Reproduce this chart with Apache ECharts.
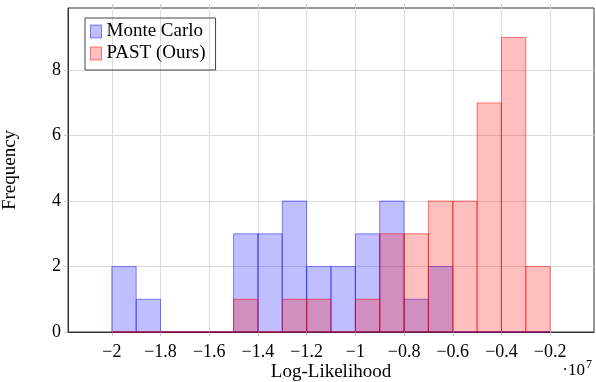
<!DOCTYPE html>
<html>
<head>
<meta charset="utf-8">
<script src="https://cdn.jsdelivr.net/npm/echarts@6/dist/echarts.min.js"></script>
<style>html,body{margin:0;padding:0;background:#fff;}#c{width:596px;height:382px;}</style>
</head>
<body>
<div id="c"></div>
<script>
// Bin edges (×10^7)
const binEdges = [-2.0, -1.9, -1.8, -1.7, -1.6, -1.5, -1.4, -1.3, -1.2, -1.1, -1.0, -0.9, -0.8, -0.7, -0.6, -0.5, -0.4, -0.3, -0.2];
// Frequencies per bin
const monteCarloCounts = [2, 1, 0, 0, 0, 3, 3, 4, 2, 2, 3, 4, 1, 2, 0, 0, 0, 0];
const pastCounts       = [0, 0, 0, 0, 0, 1, 0, 1, 1, 0, 1, 3, 3, 4, 4, 7, 9, 2];
const seriesNames = ['Monte Carlo', 'PAST (Ours)'];
const xTicks = [-2, -1.8, -1.6, -1.4, -1.2, -1, -0.8, -0.6, -0.4, -0.2];
const yTicks = [0, 2, 4, 6, 8];

const FONT = '"Liberation Serif", "DejaVu Serif", serif';
const blueFill = 'rgba(0,0,255,0.25)', blueStroke = 'rgba(0,0,255,0.45)';
const redFill = 'rgba(255,0,0,0.25)', redStroke = 'rgba(255,0,0,0.5)';

function toBins(counts) {
  return counts.map((c, i) => [binEdges[i], binEdges[i + 1], c]);
}
function makeRender(fill, stroke) {
  return function (params, api) {
    const p0 = api.coord([api.value(0), api.value(2)]);
    const p1 = api.coord([api.value(1), 0]);
    return {
      type: 'rect',
      shape: { x: p0[0], y: p0[1], width: p1[0] - p0[0], height: p1[1] - p0[1] },
      style: { fill: fill, stroke: stroke, lineWidth: 1 }
    };
  };
}
const fmt = v => String(Math.round(v * 10) / 10).replace('-', '\u2212');

const chart = echarts.init(document.getElementById('c'), null, { renderer: 'canvas' });
chart.setOption({
  animation: false,
  backgroundColor: '#fff',
  textStyle: { fontFamily: FONT },
  grid: { left: 68, right: 2, top: 8, bottom: 50, containLabel: false, outerBoundsMode: 'none',
          show: true, borderColor: '#333', borderWidth: 1, backgroundColor: 'transparent' },
  legend: {
    orient: 'vertical', left: 85, top: 18,
    borderColor: '#444', borderWidth: 1, padding: [4, 10, 7, 5],
    itemGap: 3, itemWidth: 11, itemHeight: 13,
    textStyle: { fontFamily: FONT, fontSize: 19, color: '#000' },
    data: [
      { name: seriesNames[0], icon: 'rect', itemStyle: { color: blueFill, borderColor: blueStroke, borderWidth: 1 } },
      { name: seriesNames[1], icon: 'rect', itemStyle: { color: redFill, borderColor: redStroke, borderWidth: 1 } }
    ]
  },
  xAxis: [{
    type: 'value', min: -2.18, max: -0.02,
    name: 'Log-Likelihood', nameLocation: 'middle', nameGap: 31, nameMoveOverlap: false,
    nameTextStyle: { fontFamily: FONT, fontSize: 19, color: '#000' },
    axisLine: { show: true, lineStyle: { color: '#333', width: 1 } },
    axisTick: { show: true, inside: false, length: 4, customValues: xTicks, lineStyle: { color: '#c8c8c8' } },
    axisLabel: { customValues: xTicks, formatter: fmt, margin: 11, fontFamily: FONT, fontSize: 18, color: '#000' },
    splitLine: { show: true, lineStyle: { color: '#dcdcdc', width: 1 } }
  }, {
    type: 'value', min: -2.18, max: -0.02, position: 'top',
    axisLine: { show: false },
    axisTick: { show: true, inside: false, length: 4, customValues: xTicks, lineStyle: { color: '#c8c8c8' } },
    axisLabel: { show: false },
    splitLine: { show: false }
  }],
  yAxis: [{
    type: 'value', min: 0, max: 9.9,
    name: 'Frequency', nameLocation: 'middle', nameGap: 48, nameRotate: 90, nameMoveOverlap: false,
    nameTextStyle: { fontFamily: FONT, fontSize: 19, color: '#000' },
    axisLine: { show: true, lineStyle: { color: '#333', width: 1 } },
    axisTick: { show: true, inside: false, length: 4, customValues: yTicks, lineStyle: { color: '#c8c8c8' } },
    axisLabel: { customValues: yTicks, formatter: fmt, margin: 7, fontFamily: FONT, fontSize: 18, color: '#000' },
    splitLine: { show: true, lineStyle: { color: '#dcdcdc', width: 1 } }
  }],
  graphic: [{
    type: 'text', right: 4, top: 359,
    style: {
      text: '{a|\u00b710}{b|7}', fontFamily: FONT,
      rich: {
        a: { fontFamily: FONT, fontSize: 17, color: '#000', verticalAlign: 'bottom' },
        b: { fontFamily: FONT, fontSize: 12, color: '#000', verticalAlign: 'top', padding: [0, 0, 8, 1] }
      }
    }
  }],
  series: [{
    name: seriesNames[0], type: 'custom', xAxisIndex: 0, yAxisIndex: 0,
    renderItem: makeRender(blueFill, blueStroke),
    itemStyle: { color: blueFill, borderColor: blueStroke },
    encode: { x: [0, 1], y: 2 },
    data: toBins(monteCarloCounts), z: 2
  }, {
    name: seriesNames[1], type: 'custom', xAxisIndex: 0, yAxisIndex: 0,
    renderItem: makeRender(redFill, redStroke),
    itemStyle: { color: redFill, borderColor: redStroke },
    encode: { x: [0, 1], y: 2 },
    data: toBins(pastCounts), z: 3
  }]
});
</script>
</body>
</html>
